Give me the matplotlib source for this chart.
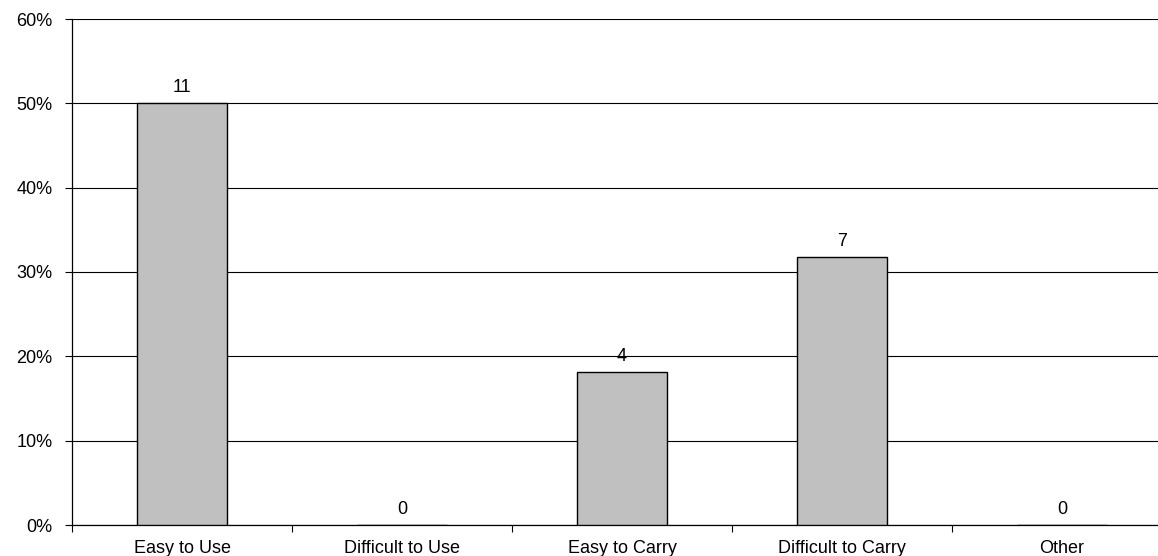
import matplotlib.pyplot as plt
import numpy as np
from matplotlib.ticker import FuncFormatter, FixedLocator

plt.rcParams['font.family'] = ['Liberation Sans', 'DejaVu Sans']

categories = ["Easy to Use", "Difficult to Use", "Easy to Carry", "Difficult to Carry", "Other"]
counts = [11, 0, 4, 7, 0]
total = sum(counts)
shares = [c / total for c in counts]

W, H = 1158, 556
fs = 13
fig = plt.figure(figsize=(W / 100, H / 100), dpi=100)
# plot area runs a little past the right edge of the canvas
ax = fig.add_axes([72 / W, 31 / H, 1100 / W, 506 / H])

x = np.arange(len(categories))
ax.bar(x, shares, width=0.405, color="#C0C0C0", edgecolor="black", linewidth=1.0, zorder=3)

for xi, s, c in zip(x, shares, counts):
    ax.annotate(str(c), (xi, s), xytext=(0, 5), textcoords="offset points",
                ha="center", va="bottom", fontsize=fs)

ax.set_xlim(-0.5, len(categories) - 0.5)
ax.set_ylim(0, 0.6)
ax.set_yticks(np.arange(0, 0.61, 0.1))
ax.yaxis.set_major_formatter(FuncFormatter(lambda v, _: f"{v * 100:.0f}%"))
ax.yaxis.grid(True, color="black", linewidth=0.8, zorder=0)
ax.set_axisbelow(True)

ax.set_xticks(x)
ax.set_xticklabels(categories)
ax.xaxis.set_minor_locator(FixedLocator(np.arange(-0.5, len(categories), 1.0)))
ax.tick_params(axis="x", which="major", length=0, pad=11, labelsize=fs)
ax.tick_params(axis="x", which="minor", length=5, width=0.8, direction="out")
ax.tick_params(axis="y", length=5, width=0.8, pad=9, labelsize=fs)

for side in ["top", "right"]:
    ax.spines[side].set_visible(False)
for side in ["left", "bottom"]:
    ax.spines[side].set_linewidth(0.9)

fig.savefig("out.png", dpi=100)
